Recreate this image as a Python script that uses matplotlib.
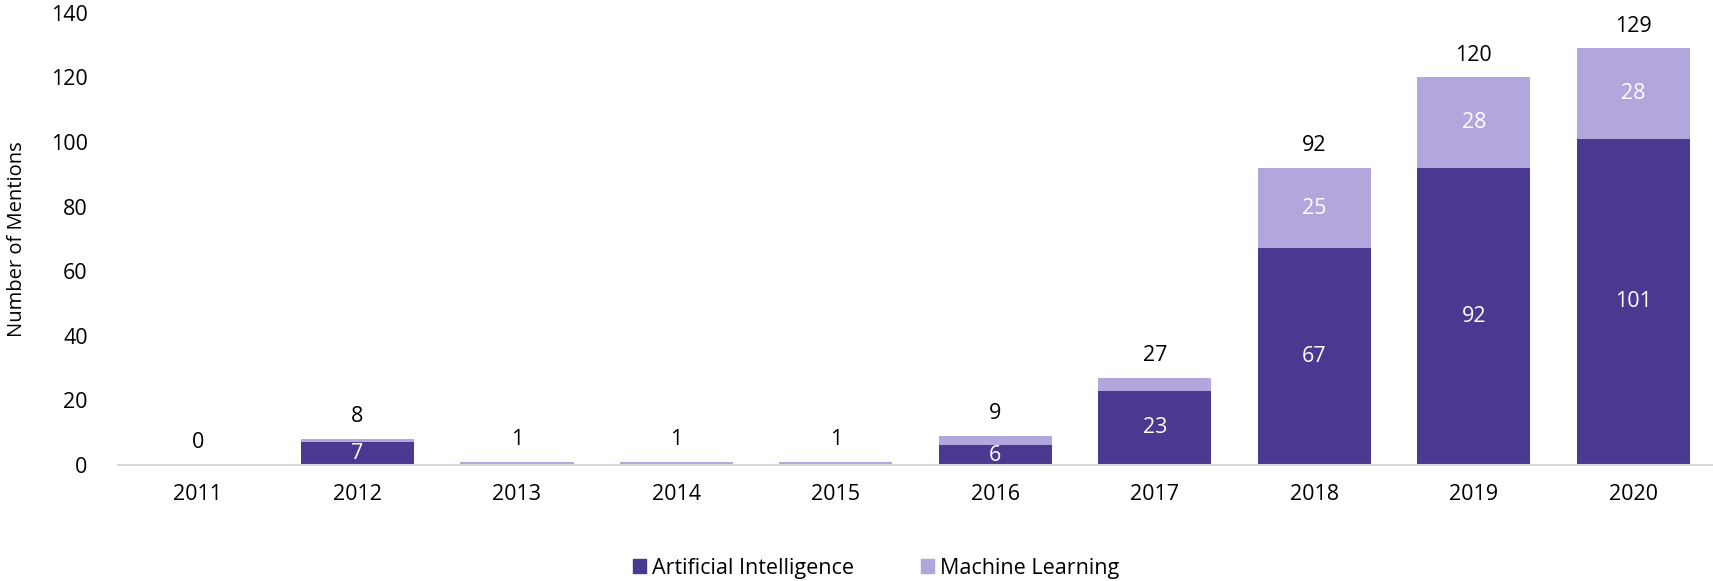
import numpy as np
import matplotlib.pyplot as plt
from matplotlib.patches import Patch

years = ['2011', '2012', '2013', '2014', '2015', '2016', '2017', '2018', '2019', '2020']
ai = [0, 7, 0, 0, 0, 6, 23, 67, 92, 101]
ml = [0, 1, 1, 1, 1, 3, 4, 25, 28, 28]

c_ai = '#4B3991'
c_ml = '#B3A6DD'

plt.rcParams['font.family'] = ['Open Sans', 'DejaVu Sans']
fs = 15.5

fig = plt.figure(figsize=(17.13, 5.81), dpi=100)
ax = fig.add_axes([0.069, 0.2, 0.931, 0.778])

x = np.arange(len(years))
w = 0.71
ax.bar(x, ai, w, color=c_ai, label='Artificial Intelligence')
ax.bar(x, ml, w, bottom=ai, color=c_ml, label='Machine Learning')

totals = [a + m for a, m in zip(ai, ml)]
for i in range(len(years)):
    if ai[i] >= 5:
        ax.text(x[i], ai[i] / 2, str(ai[i]), ha='center', va='center',
                color='white', fontsize=fs)
    if ml[i] >= 5:
        ax.text(x[i], ai[i] + ml[i] / 2, str(ml[i]), ha='center', va='center',
                color='white', fontsize=fs)
    ax.annotate(str(totals[i]), (x[i], totals[i]), xytext=(0, 16),
                textcoords='offset points', ha='center', va='center',
                fontsize=fs, color='black')

ax.set_xlim(-0.5, len(years) - 0.5)
ax.set_ylim(0, 140)
ax.set_yticks(range(0, 141, 20))
ax.set_xticks(x)
ax.set_xticklabels(years)
ax.tick_params(axis='both', length=0, labelsize=fs)
ax.tick_params(axis='x', pad=14)
ax.tick_params(axis='y', pad=22)
for s in ['top', 'right', 'left']:
    ax.spines[s].set_visible(False)
ax.spines['bottom'].set_color('#D9D9D9')
ax.spines['bottom'].set_linewidth(1.5)
ax.set_ylabel('Number of Mentions', fontsize=fs - 1)
ax.yaxis.set_label_coords(-0.057, 0.5)

handles = [Patch(color=c_ai), Patch(color=c_ml)]
fig.legend(handles, ['Artificial Intelligence', 'Machine Learning'],
           loc='center', bbox_to_anchor=(876 / 1713, 0.022),
           ncol=2, frameon=False, fontsize=fs, handlelength=0.6, handleheight=0.6,
           handletextpad=0.3, columnspacing=3.1)

plt.savefig('out.png', dpi=100)
